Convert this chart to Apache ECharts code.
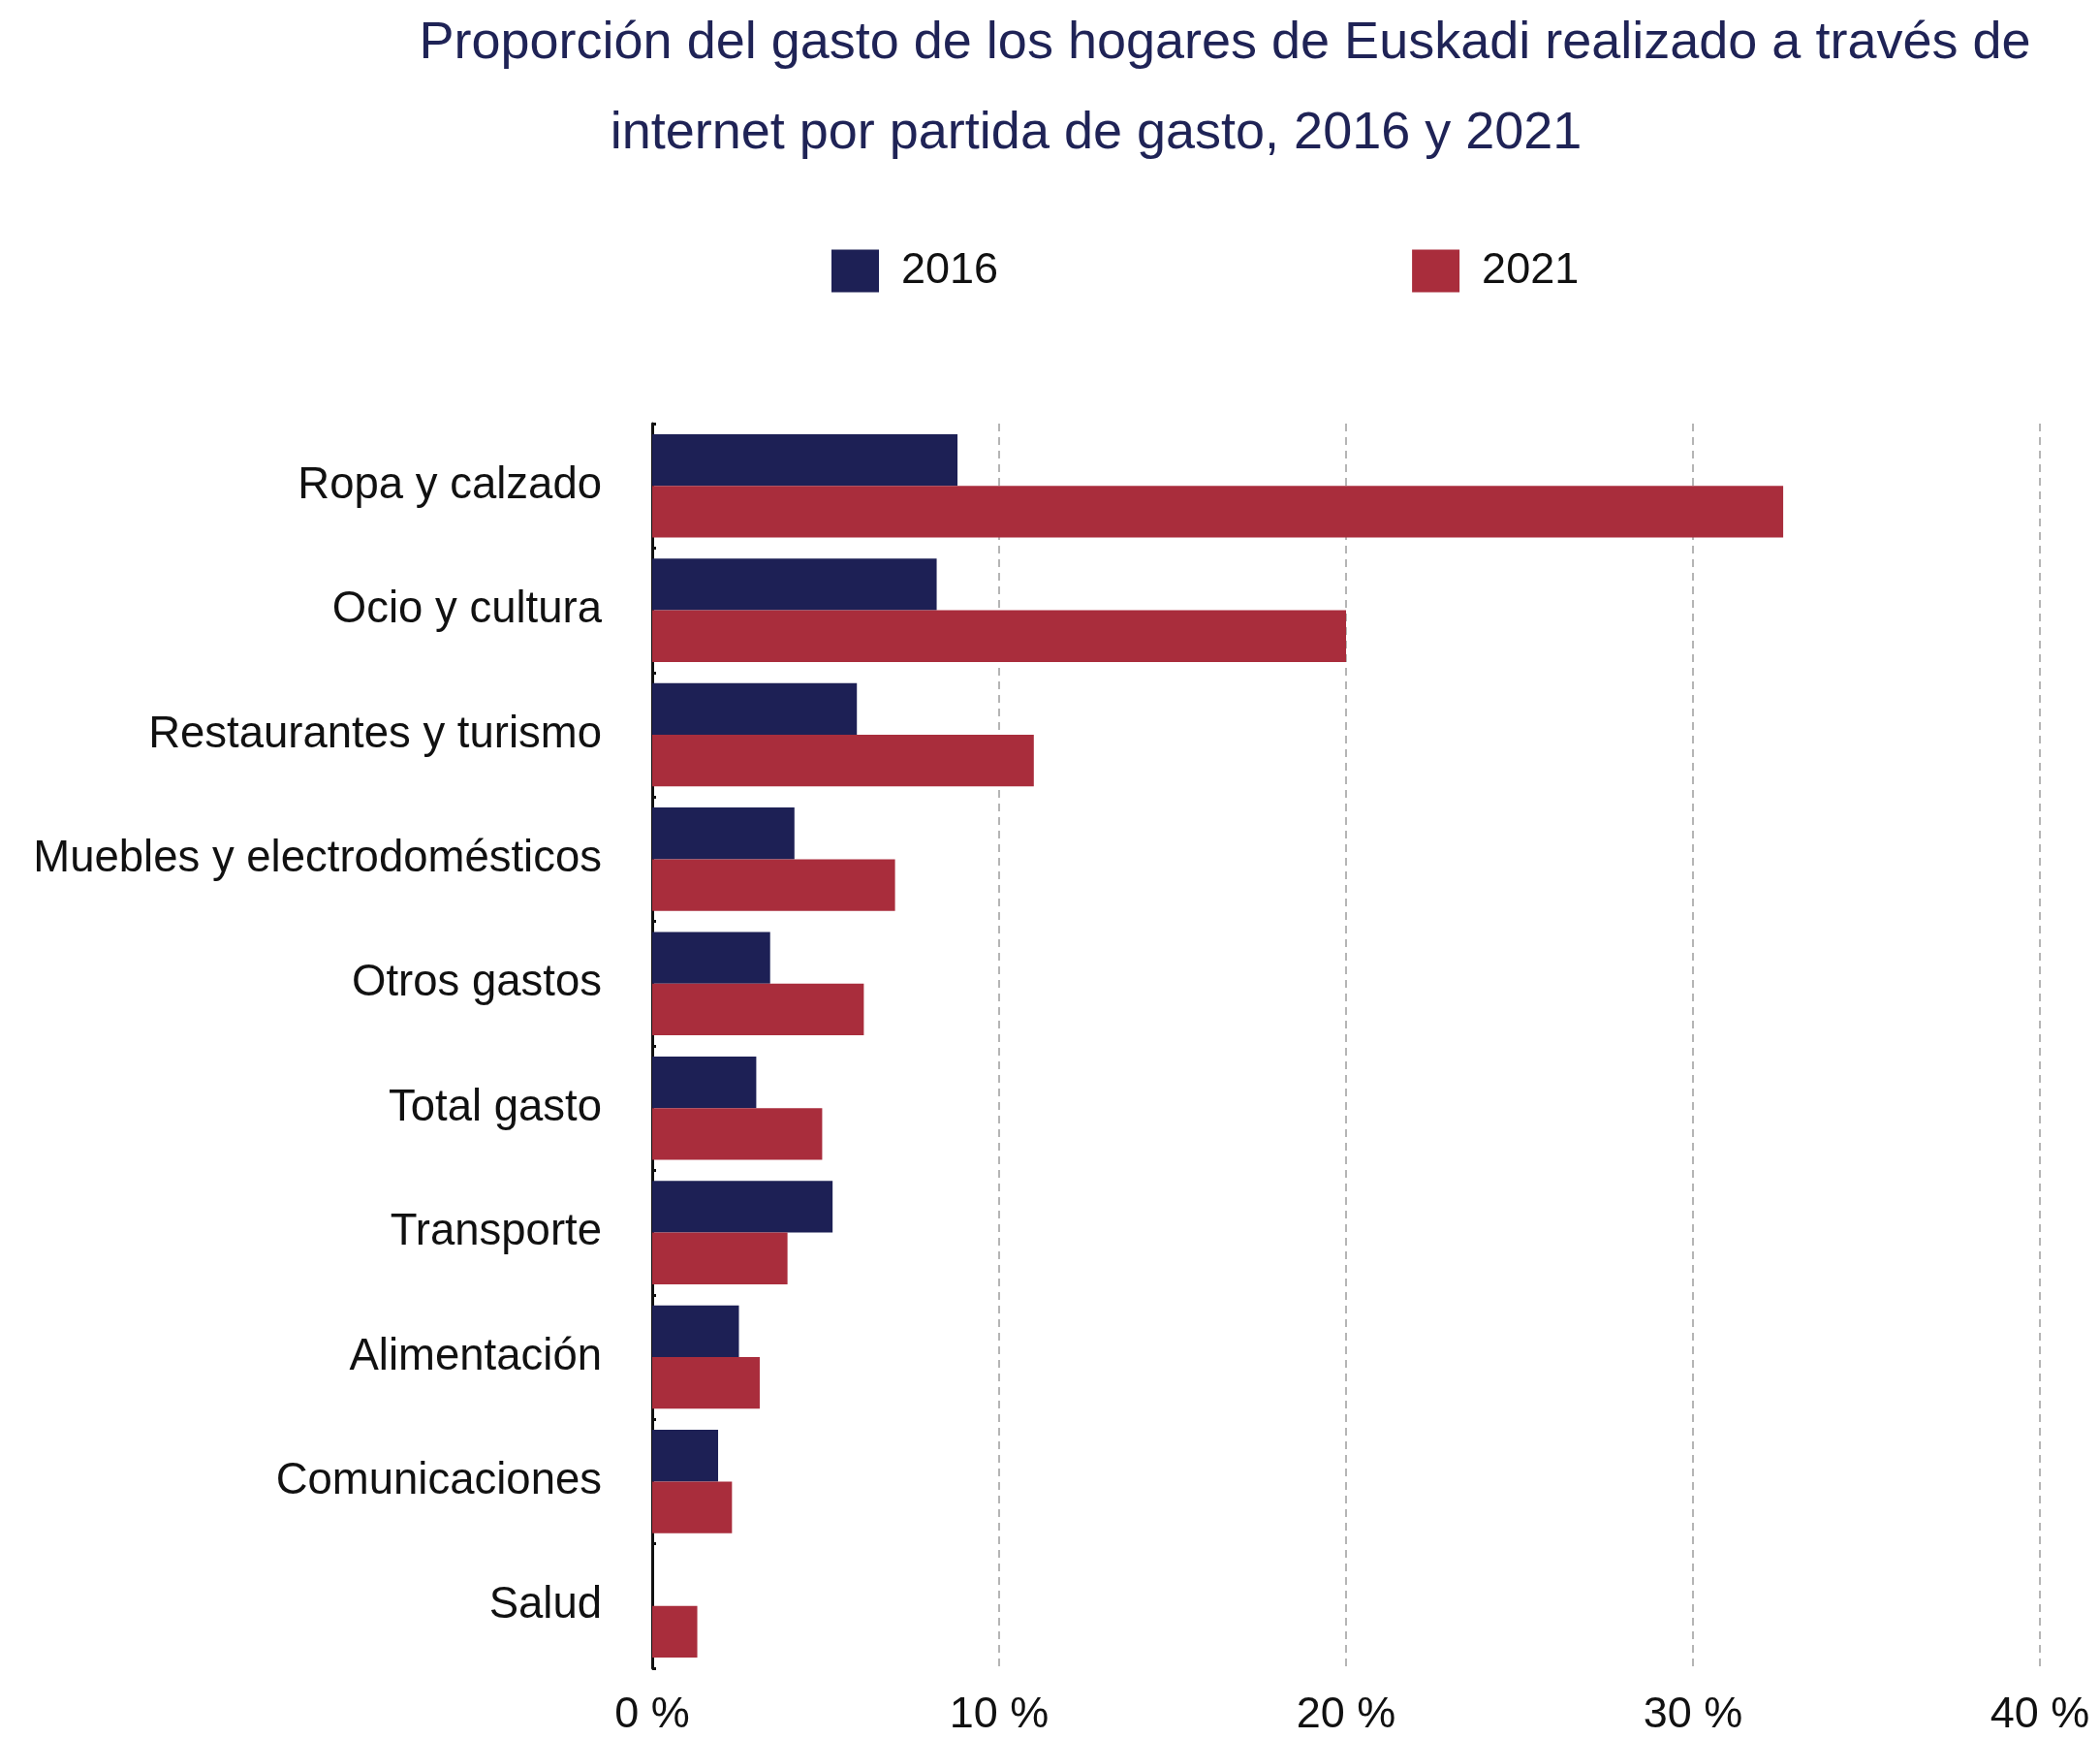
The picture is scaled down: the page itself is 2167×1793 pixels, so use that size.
<!DOCTYPE html>
<html>
<head>
<meta charset="utf-8">
<script src="https://cdn.jsdelivr.net/npm/echarts@6/dist/echarts.min.js"></script>
<style>
html,body{margin:0;padding:0;background:#fff;}
#chart{width:2167px;height:1793px;}
</style>
</head>
<body>
<div id="chart"></div>
<script>
var titleLine1 = 'Proporción del gasto de los hogares de Euskadi realizado a través de';
var titleLine2 = 'internet por partida de gasto, 2016 y 2021';
var categories = ['Ropa y calzado','Ocio y cultura','Restaurantes y turismo','Muebles y electrodomésticos','Otros gastos','Total gasto','Transporte','Alimentación','Comunicaciones','Salud'];
var seriesNames = ['2016','2021'];
var values2016 = [8.8, 8.2, 5.9, 4.1, 3.4, 3.0, 5.2, 2.5, 1.9, 0];
var values2021 = [32.6, 20.0, 11.0, 7.0, 6.1, 4.9, 3.9, 3.1, 2.3, 1.3];
var xTicks = [0, 10, 20, 30, 40];

var FONT = 'Liberation Sans, Arial, sans-serif';
var chart = echarts.init(document.getElementById('chart'), null, {renderer:'canvas'});
chart.setOption({
  backgroundColor:'#ffffff',
  animation:false,
  title:[
    {text:titleLine1, left:1259, top:40, textAlign:'center', textVerticalAlign:'middle',
     textStyle:{fontFamily:FONT, fontSize:54, fontWeight:'normal', color:'#1f2356'}},
    {text:titleLine2, left:1126, top:133, textAlign:'center', textVerticalAlign:'middle',
     textStyle:{fontFamily:FONT, fontSize:54, fontWeight:'normal', color:'#1f2356'}}
  ],
  legend:{
    data:seriesNames, left:853, top:252, itemWidth:49, itemHeight:44, itemGap:427,
    icon:'rect',
    textStyle:{fontFamily:FONT, fontSize:45, color:'#111', padding:[0,0,0,18]}
  },
  grid:{left:673, right:62, top:437, bottom:72, containLabel:false},
  xAxis:{
    type:'value', min:xTicks[0], max:xTicks[xTicks.length-1], interval:10,
    axisLine:{show:false}, axisTick:{show:false},
    axisLabel:{formatter:function(v){return v+' %';}, fontFamily:FONT, fontSize:45, color:'#111', margin:26},
    splitLine:{show:true, lineStyle:{type:[8,6], color:'#b5b5b5', width:2}}
  },
  yAxis:{
    type:'category', data:categories, inverse:true,
    axisLine:{show:true, lineStyle:{color:'#111', width:3}},
    axisTick:{show:true, inside:true, length:4, lineStyle:{color:'#111', width:3}},
    axisLabel:{fontFamily:FONT, fontSize:45.5, color:'#111', margin:52}
  },
  series:[
    {name:seriesNames[0], type:'bar', data:values2016, barGap:'0%', barCategoryGap:'17%',
     itemStyle:{color:'#1d2055'}},
    {name:seriesNames[1], type:'bar', data:values2021, barGap:'0%', barCategoryGap:'17%',
     itemStyle:{color:'#a92d3c'}}
  ]
});
</script>
</body>
</html>
